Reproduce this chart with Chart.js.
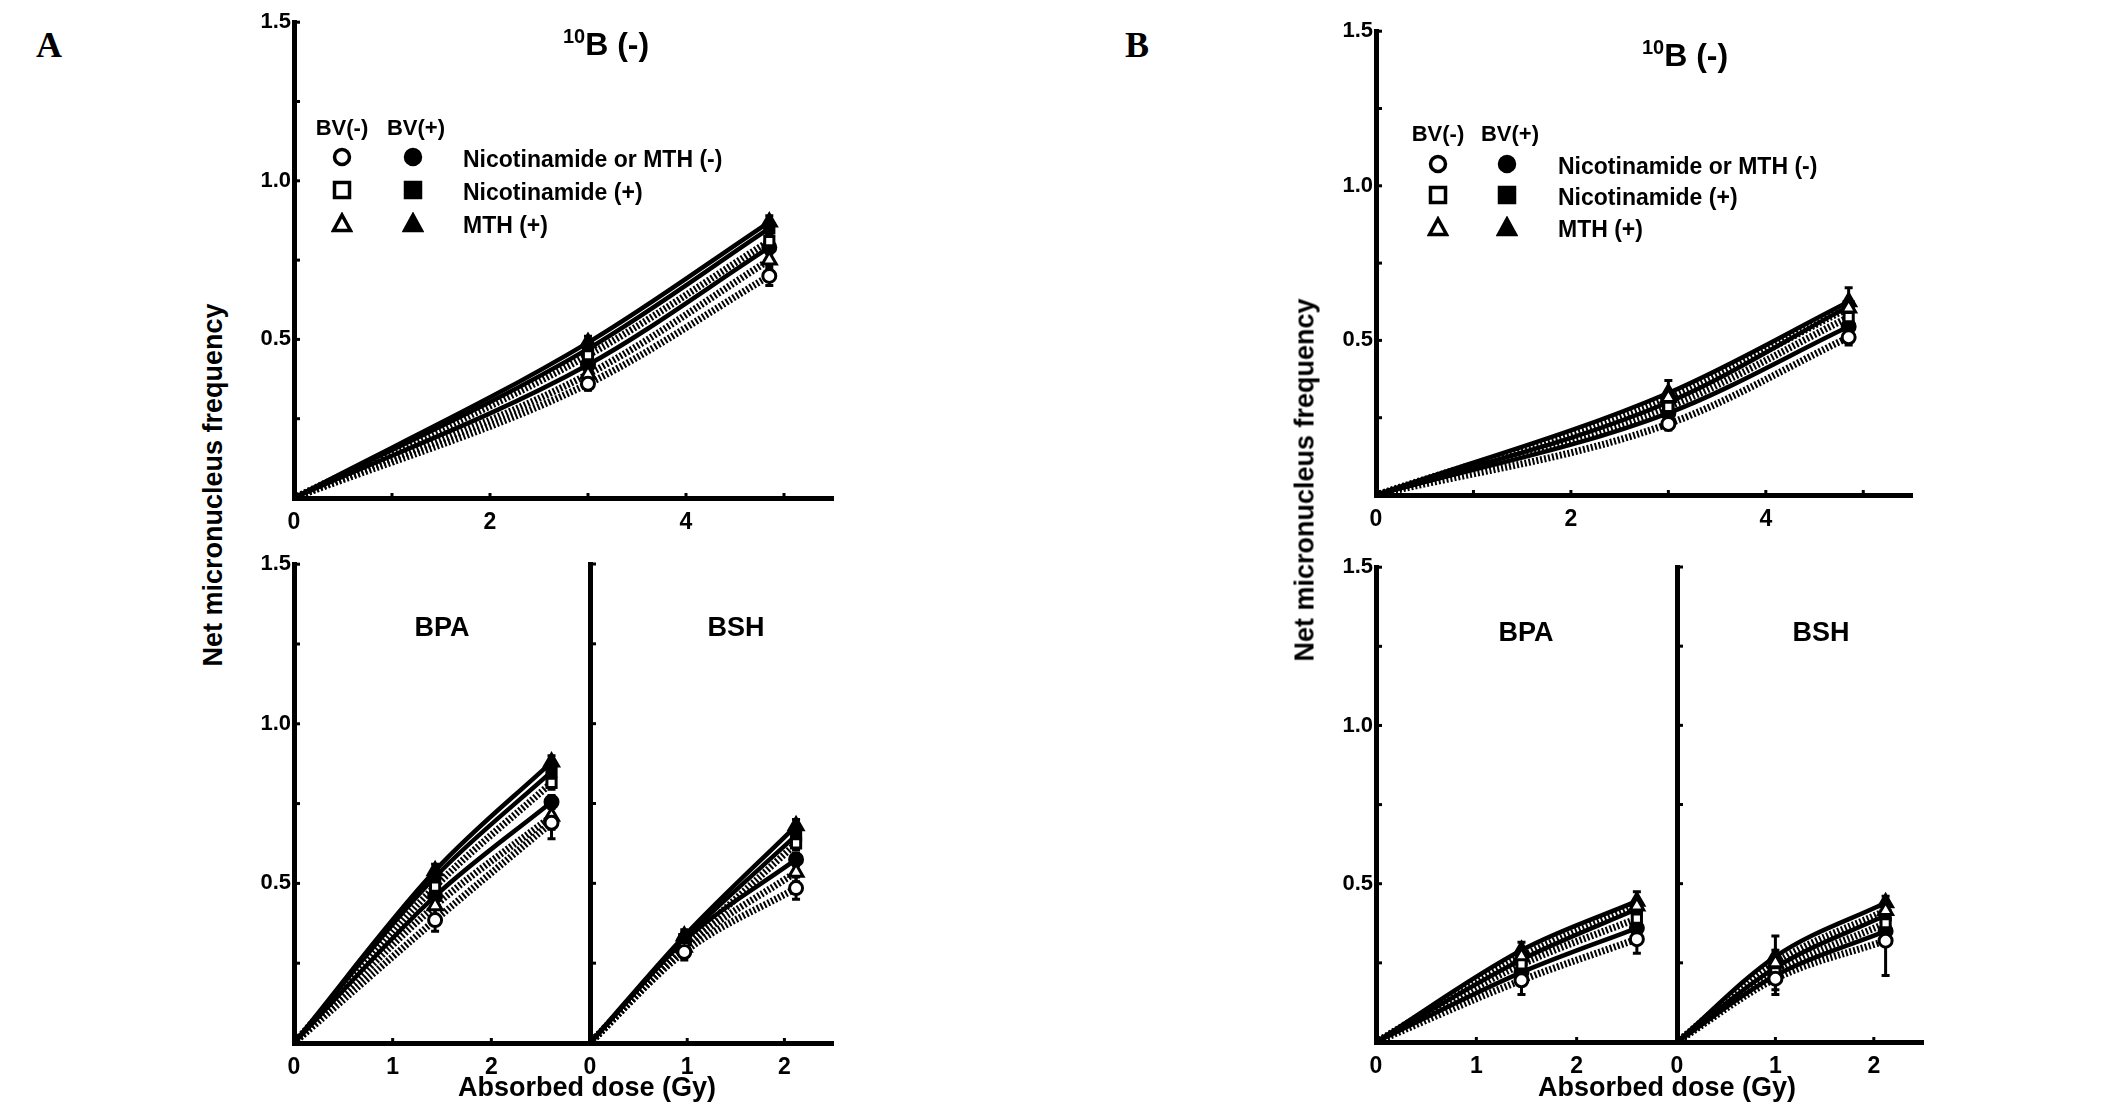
<!DOCTYPE html>
<html>
<head>
<meta charset="utf-8">
<script src="https://cdn.jsdelivr.net/npm/chart.js@4.4.0/dist/chart.umd.min.js"></script>
<style>
    body { margin: 0; background: #fff; width: 2126px; height: 1108px; position: relative; overflow: hidden;
           font-family: "Liberation Sans", Arial, sans-serif; color: #000; }
    canvas { position: absolute; }
    .t { position: absolute; white-space: nowrap; transform: translate(-50%, -50%); line-height: 1; }
    .letter { font-family: "Liberation Serif", "Times New Roman", serif; font-weight: bold; font-size: 36px; }
    .title { font-size: 32px; font-weight: bold; }
    .title sup { font-size: 20px; vertical-align: 12px; }
    .sub { font-size: 27px; font-weight: bold; }
    .ytitle { font-weight: bold; font-size: 27px; transform: translate(-50%, -50%) rotate(-90deg); }
    .xtitle { font-weight: bold; font-size: 27px; }
    .leg { font-weight: bold; font-size: 22px; }
    .legl { position: absolute; white-space: nowrap; transform: translateY(-50%); font-weight: bold; font-size: 23px; line-height: 1; }
    .sym { position: absolute; transform: translate(-50%, -50%); }
</style>
</head>
<body>
<script>
// ============================================
// Net micronucleus frequency vs absorbed dose — panels A and B
// ============================================

// series order: BV(-) circle, BV(-) square, BV(-) triangle, BV(+) circle, BV(+) square, BV(+) triangle
const legendLabels = ['Nicotinamide or MTH (-)', 'Nicotinamide (+)', 'MTH (+)'];
const legendHeads = ['BV(-)', 'BV(+)'];

const yTicks = [0.5, 1.0, 1.5];
const yTickLabels = ['0.5', '1.0', '1.5'];
const yMinorTicks = [0.25, 0.5, 0.75, 1.0, 1.25, 1.5];
const xTicksTop = [0, 2, 4];
const xTickLabelsTop = ['0', '2', '4'];
const xMinorTop = [1, 2, 3, 4, 5];
const xTicksLow = [0, 1, 2];
const xTickLabelsLow = ['0', '1', '2'];
const xMinorBPA = [1, 2];
const xMinorBSH = [1, 2];

// --- panel A ---
const doseATop = [0, 3.0, 4.85];
const freqATop = [
    [0, 0.36, 0.70], [0, 0.45, 0.81], [0, 0.39, 0.75],
    [0, 0.42, 0.79], [0, 0.47, 0.85], [0, 0.49, 0.87],
];
const errATop = [
    [0, 0.02, 0.03], [0, 0.015, 0.02], [0, 0.02, 0.03],
    [0, 0.02, 0.02], [0, 0.02, 0.02], [0, 0.02, 0.02],
];
const doseABPA = [0, 1.43, 2.61];
const freqABPA = [
    [0, 0.385, 0.69], [0, 0.49, 0.815], [0, 0.43, 0.71],
    [0, 0.46, 0.755], [0, 0.52, 0.85], [0, 0.54, 0.88],
];
const errABPA = [
    [0, 0.035, 0.05], [0, 0.02, 0.02], [0, 0.04, 0.04],
    [0, 0.02, 0.02], [0, 0.02, 0.02], [0, 0.02, 0.02],
];
const doseABSH = [0, 0.97, 2.12];
const freqABSH = [
    [0, 0.285, 0.485], [0, 0.30, 0.625], [0, 0.30, 0.535],
    [0, 0.32, 0.575], [0, 0.325, 0.65], [0, 0.335, 0.68],
];
const errABSH = [
    [0, 0.025, 0.035], [0, 0.02, 0.02], [0, 0.03, 0.03],
    [0, 0.02, 0.02], [0, 0.02, 0.02], [0, 0.02, 0.02],
];

// --- panel B ---
const doseBTop = [0, 3.0, 4.85];
const freqBTop = [
    [0, 0.23, 0.51], [0, 0.285, 0.575], [0, 0.315, 0.605],
    [0, 0.265, 0.545], [0, 0.30, 0.61], [0, 0.33, 0.625],
];
const errBTop = [
    [0, 0.02, 0.025], [0, 0.02, 0.02], [0, 0.02, 0.02],
    [0, 0.02, 0.02], [0, 0.02, 0.02], [0, 0.04, 0.045],
];
const doseBBPA = [0, 1.45, 2.6];
const freqBBPA = [
    [0, 0.195, 0.325], [0, 0.245, 0.39], [0, 0.27, 0.43],
    [0, 0.22, 0.36], [0, 0.26, 0.42], [0, 0.29, 0.445],
];
const errBBPA = [
    [0, 0.045, 0.045], [0, 0.02, 0.02], [0, 0.02, 0.02],
    [0, 0.02, 0.02], [0, 0.02, 0.02], [0, 0.025, 0.03],
];
const doseBBSH = [0, 1.0, 2.12];
const freqBBSH = [
    [0, 0.20, 0.32], [0, 0.22, 0.375], [0, 0.25, 0.415],
    [0, 0.21, 0.35], [0, 0.235, 0.40], [0, 0.27, 0.44],
];
const errBBSH = [
    [0, 0.05, 0.11], [0, 0.02, 0.02], [0, 0.085, 0.03],
    [0, 0.02, 0.02], [0, 0.02, 0.02], [0, 0.02, 0.02],
];

// ---- layout (pixels) ----
const PAD_L = 64, PAD_R = 12, PAD_T = 16, PAD_B = 46;
const STYLES = ['circle', 'rect', 'triangle'];

const panels = [
    { left: 294, top: 22, right: 833, bottom: 498, xMax: 5.5, dose: doseATop, freq: freqATop, err: errATop,
      xTicks: xTicksTop, xLabels: xTickLabelsTop, xMinor: xMinorTop, yLabels: true },
    { left: 294, top: 564, right: 590, bottom: 1043, xMax: 3, dose: doseABPA, freq: freqABPA, err: errABPA,
      xTicks: xTicksLow, xLabels: xTickLabelsLow, xMinor: xMinorBPA, yLabels: true },
    { left: 590, top: 564, right: 833, bottom: 1043, xMax: 2.5, dose: doseABSH, freq: freqABSH, err: errABSH,
      xTicks: xTicksLow, xLabels: xTickLabelsLow, xMinor: xMinorBSH, yLabels: false },
    { left: 1376, top: 31, right: 1912, bottom: 495, xMax: 5.5, dose: doseBTop, freq: freqBTop, err: errBTop,
      xTicks: xTicksTop, xLabels: xTickLabelsTop, xMinor: xMinorTop, yLabels: true },
    { left: 1376, top: 567, right: 1677, bottom: 1042, xMax: 3, dose: doseBBPA, freq: freqBBPA, err: errBBPA,
      xTicks: xTicksLow, xLabels: xTickLabelsLow, xMinor: xMinorBPA, yLabels: true },
    { left: 1677, top: 567, right: 1923, bottom: 1042, xMax: 2.5, dose: doseBBSH, freq: freqBBSH, err: errBBSH,
      xTicks: xTicksLow, xLabels: xTickLabelsLow, xMinor: xMinorBSH, yLabels: false },
];

// small inward tick marks on both axes
const innerTicks = {
    id: 'innerTicks',
    afterDraw(chart, args, opts) {
        const { ctx, scales: { x, y } } = chart;
        ctx.save();
        ctx.strokeStyle = '#000';
        ctx.lineWidth = 3;
        yMinorTicks.forEach(v => {
            const py = y.getPixelForValue(v);
            ctx.beginPath(); ctx.moveTo(x.left, py); ctx.lineTo(x.left + 6, py); ctx.stroke();
        });
        opts.xMinor.forEach(v => {
            const px = x.getPixelForValue(v);
            ctx.beginPath(); ctx.moveTo(px, y.bottom); ctx.lineTo(px, y.bottom - 5); ctx.stroke();
        });
        ctx.restore();
    }
};

// vertical error bars, drawn beneath the lines and markers
const errorBars = {
    id: 'errorBars',
    beforeDatasetsDraw(chart, args, opts) {
        const { ctx, scales: { x, y } } = chart;
        ctx.save();
        ctx.strokeStyle = '#000';
        ctx.lineWidth = 3;
        opts.err.forEach((errs, s) => {
            errs.forEach((e, i) => {
                if (!e) return;
                const px = x.getPixelForValue(opts.dose[i]);
                const hi = y.getPixelForValue(opts.freq[s][i] + e);
                const lo = y.getPixelForValue(opts.freq[s][i] - e);
                ctx.beginPath();
                ctx.moveTo(px, hi); ctx.lineTo(px, lo);
                ctx.moveTo(px - 4, hi); ctx.lineTo(px + 4, hi);
                ctx.moveTo(px - 4, lo); ctx.lineTo(px + 4, lo);
                ctx.stroke();
            });
        });
        ctx.restore();
    }
};

function makePanel(p) {
    const cv = document.createElement('canvas');
    const W = p.right - p.left + PAD_L + PAD_R;
    const H = p.bottom - p.top + PAD_T + PAD_B;
    cv.width = W; cv.height = H;
    cv.style.width = W + 'px'; cv.style.height = H + 'px';
    cv.style.left = (p.left - PAD_L) + 'px';
    cv.style.top = (p.top - PAD_T) + 'px';
    document.body.appendChild(cv);

    const pts = s => p.dose.map((d, i) => ({ x: d, y: p.freq[s][i] }));

    const markerSets = p.freq.map((_, s) => {
        const filled = s >= 3;
        return {
            data: pts(s),
            showLine: false,
            pointStyle: STYLES[s % 3],
            pointRadius: c => (c.raw && c.raw.x === 0 ? 0 : (STYLES[s % 3] === 'triangle' ? 8 : 6.5)),
            pointBorderWidth: 3,
            pointBorderColor: '#000',
            pointBackgroundColor: filled ? '#000' : '#fff',
        };
    });
    const lineSets = p.freq.map((_, s) => {
        const filled = s >= 3;
        return {
            data: pts(s),
            showLine: true,
            pointRadius: 0,
            borderColor: '#000',
            borderWidth: filled ? 4.5 : 7,
            borderDash: filled ? [] : [2, 2],
            cubicInterpolationMode: 'monotone',
            fill: false,
        };
    });

    new Chart(cv, {
        type: 'scatter',
        data: { datasets: [...markerSets, ...lineSets] },
        plugins: [innerTicks, errorBars],
        options: {
            responsive: false,
            animation: false,
            devicePixelRatio: 1,
            layout: { autoPadding: false, padding: { top: PAD_T, right: PAD_R, left: 0, bottom: 0 } },
            plugins: {
                legend: { display: false },
                tooltip: { enabled: false },
                innerTicks: { xMinor: p.xMinor },
                errorBars: { err: p.err, dose: p.dose, freq: p.freq },
            },
            scales: {
                x: {
                    type: 'linear', min: 0, max: p.xMax,
                    grid: { display: false, drawTicks: false },
                    border: { display: true, color: '#000', width: 5 },
                    afterBuildTicks: sc => { sc.ticks = p.xTicks.map(v => ({ value: v })); },
                    afterFit: sc => { sc.height = PAD_B; },
                    ticks: {
                        color: '#000', padding: 11, maxRotation: 0,
                        font: { family: 'Liberation Sans', size: 23, weight: 'bold' },
                        callback: (v, i) => p.xLabels[i],
                    },
                },
                y: {
                    type: 'linear', min: 0, max: 1.5,
                    grid: { display: false, drawTicks: false },
                    border: { display: true, color: '#000', width: 5 },
                    afterBuildTicks: sc => { sc.ticks = yTicks.map(v => ({ value: v })); },
                    afterFit: sc => { sc.width = PAD_L; },
                    ticks: {
                        display: p.yLabels, color: '#000', padding: 3,
                        font: { family: 'Liberation Sans', size: 22, weight: 'bold' },
                        callback: (v, i) => yTickLabels[i],
                    },
                },
            },
        },
    });
}

panels.forEach(makePanel);

// ---- text annotations and legends ----
function text(cls, x, y, html) {
    const d = document.createElement('div');
    d.className = 't ' + cls;
    d.style.left = x + 'px'; d.style.top = y + 'px';
    d.innerHTML = html;
    document.body.appendChild(d);
}

function symbol(style, filled, x, y) {
    const fill = filled ? '#000' : '#fff';
    let shape;
    if (style === 'circle') shape = `<circle cx="11" cy="11" r="7.5" fill="${fill}" stroke="#000" stroke-width="3.5"/>`;
    else if (style === 'rect') shape = `<rect x="3.5" y="3.5" width="15" height="15" fill="${fill}" stroke="#000" stroke-width="3.5"/>`;
    else shape = `<polygon points="11,3 19.5,18.5 2.5,18.5" fill="${fill}" stroke="#000" stroke-width="3.5" stroke-linejoin="miter"/>`;
    const d = document.createElement('div');
    d.className = 'sym';
    d.style.left = x + 'px'; d.style.top = y + 'px';
    d.innerHTML = `<svg width="22" height="22" viewBox="0 0 22 22">${shape}</svg>`;
    document.body.appendChild(d);
}

function legend(headY, rows, openX, filledX, textX) {
    text('leg', openX, headY, legendHeads[0]);
    text('leg', filledX + 3, headY, legendHeads[1]);
    legendLabels.forEach((lab, i) => {
        symbol(STYLES[i], false, openX, rows[i]);
        symbol(STYLES[i], true, filledX, rows[i]);
        const d = document.createElement('div');
        d.className = 'legl';
        d.style.left = textX + 'px'; d.style.top = rows[i] + 'px';
        d.textContent = lab;
        document.body.appendChild(d);
    });
}

text('letter', 49, 45, 'A');
text('letter', 1137, 45, 'B');
text('title', 606, 43, '<sup>10</sup>B (-)');
text('title', 1685, 54, '<sup>10</sup>B (-)');
text('sub', 442, 627, 'BPA');
text('sub', 736, 627, 'BSH');
text('sub', 1526, 632, 'BPA');
text('sub', 1821, 632, 'BSH');
text('ytitle', 213, 485, 'Net micronucleus frequency');
text('ytitle', 1305, 480, 'Net micronucleus frequency');
text('xtitle', 587, 1087, 'Absorbed dose (Gy)');
text('xtitle', 1667, 1087, 'Absorbed dose (Gy)');

legend(128, [159, 192, 225], 342, 413, 463);
legend(134, [166, 197, 229], 1438, 1507, 1558);
</script>
</body>
</html>
